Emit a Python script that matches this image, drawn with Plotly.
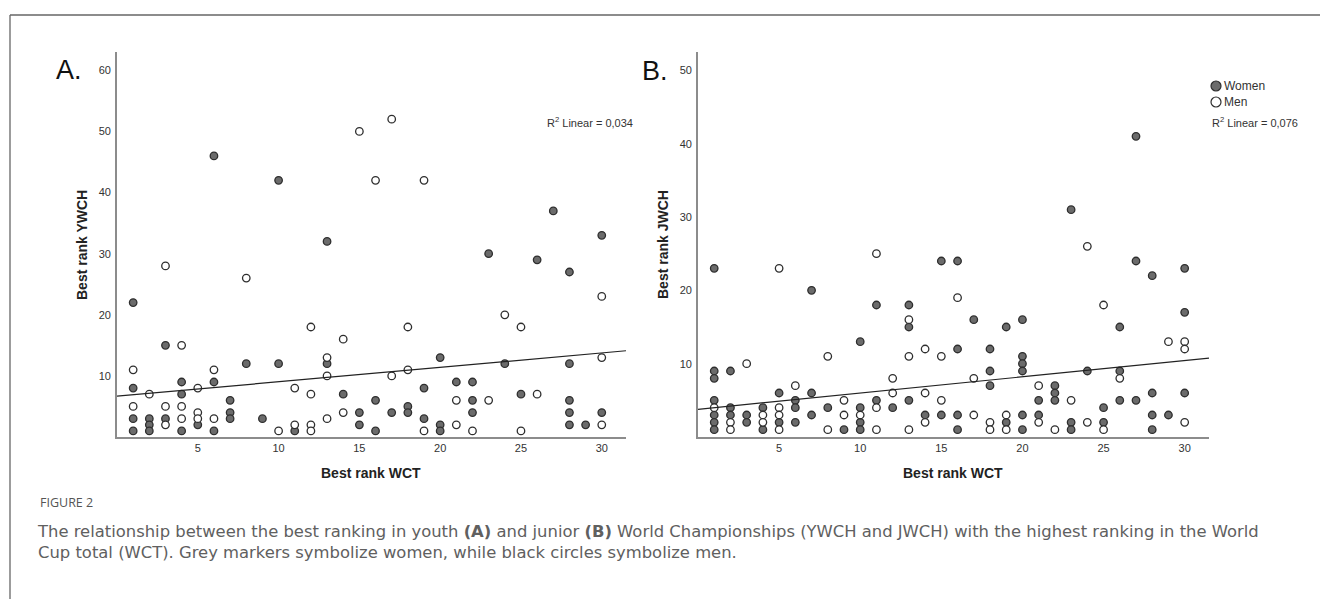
import plotly.graph_objects as go

# ---------------- data ----------------
# Panel A: best rank WCT (x) vs best rank YWCH (y)
A_WOMEN_X = [1, 1, 1, 1, 2, 2, 2, 3, 3, 4, 4, 4, 5, 6, 6, 6, 7, 7, 7, 8, 9, 10, 10, 11,
             13, 13, 14, 15, 15, 16, 16, 17, 18, 18, 19, 19, 20, 20, 20, 21, 22, 22, 22,
             23, 24, 25, 26, 27, 28, 28, 28, 28, 28, 29, 30, 30]
A_WOMEN_Y = [22, 8, 3, 1, 3, 2, 1, 15, 3, 9, 7, 1, 2, 46, 9, 1, 6, 4, 3, 12, 3, 42, 12, 1,
             32, 12, 7, 4, 2, 6, 1, 4, 5, 4, 8, 3, 13, 2, 1, 9, 9, 6, 4,
             30, 12, 7, 29, 37, 27, 12, 6, 4, 2, 2, 33, 4]
A_MEN_X = [1, 1, 2, 3, 3, 3, 4, 4, 4, 5, 5, 5, 6, 6, 8, 10, 11, 11, 12, 12, 12, 12,
           13, 13, 13, 14, 14, 15, 16, 17, 17, 18, 18, 19, 19, 21, 21, 22, 23, 24,
           25, 25, 26, 30, 30, 30]
A_MEN_Y = [11, 5, 7, 28, 5, 2, 15, 5, 3, 8, 4, 3, 11, 3, 26, 1, 8, 2, 18, 7, 2, 1,
           13, 10, 3, 16, 4, 50, 42, 52, 10, 18, 11, 42, 1, 6, 2, 1, 6, 20,
           18, 1, 7, 23, 13, 2]

# Panel B: best rank WCT (x) vs best rank JWCH (y)
B_WOMEN_X = [1, 1, 1, 1, 1, 1, 1, 2, 2, 2, 3, 3, 4, 4, 5, 5, 6, 6, 6, 7, 7, 7, 8, 9,
             10, 10, 10, 10, 11, 11, 12, 13, 13, 13, 14, 15, 15, 16, 16, 16, 16, 17,
             18, 18, 18, 19, 19, 20, 20, 20, 20, 20, 20, 21, 21, 22, 22, 22, 23, 23, 23,
             24, 25, 25, 26, 26, 26, 27, 27, 27, 28, 28, 28, 28, 29, 30, 30, 30]
B_WOMEN_Y = [23, 9, 8, 5, 3, 2, 1, 9, 4, 3, 3, 2, 4, 1, 6, 2, 5, 4, 2, 20, 6, 3, 4, 1,
             13, 4, 2, 1, 18, 5, 4, 18, 15, 5, 3, 24, 3, 24, 12, 3, 1, 16,
             12, 9, 7, 15, 2, 16, 11, 10, 9, 3, 1, 5, 3, 7, 6, 5, 31, 2, 1,
             9, 4, 2, 15, 9, 5, 41, 24, 5, 22, 6, 3, 1, 3, 23, 17, 6]
B_MEN_X = [1, 2, 2, 3, 4, 4, 5, 5, 5, 5, 6, 8, 8, 9, 9, 10, 11, 11, 11, 12, 12,
           13, 13, 13, 14, 14, 14, 15, 15, 16, 17, 17, 18, 18, 19, 19, 21, 21, 22,
           23, 24, 24, 25, 25, 26, 29, 30, 30, 30]
B_MEN_Y = [4, 2, 1, 10, 3, 2, 23, 4, 3, 1, 7, 11, 1, 5, 3, 3, 25, 4, 1, 8, 6,
           16, 11, 1, 12, 6, 2, 11, 5, 19, 8, 3, 2, 1, 3, 1, 7, 2, 1,
           5, 26, 2, 18, 1, 8, 13, 13, 12, 2]

# Linear fit lines (intercept, slope) and R² as shown in the figure
FIT_A = (6.68, 0.236)
FIT_B = (3.77, 0.222)
R2_A = "0,034"
R2_B = "0,076"

X_TICKS = [5, 10, 15, 20, 25, 30]
Y_TICKS_A = [10, 20, 30, 40, 50, 60]
Y_TICKS_B = [10, 20, 30, 40, 50]
X_RANGE = [0, 31.5]
Y_RANGE_A = [0, 63]
Y_RANGE_B = [0, 52.5]

CAPTION_TITLE = "FIGURE 2"
CAPTION_1 = ("The relationship between the best ranking in youth <b>(A)</b> and junior <b>(B)</b> "
             "World Championships (YWCH and JWCH) with the highest ranking in the World")
CAPTION_2 = "Cup total (WCT). Grey markers symbolize women, while black circles symbolize men."

# ---------------- styling ----------------
W, H = 1320, 599
FILL_W = "#6b6b6b"
EDGE = "#2e2e2e"
AXIS_COL = "#8c8c8c"
TXT = "#333333"
FONT = "Liberation Sans, Arial, sans-serif"

def px_x(p):
    return p / W

def px_y(p):
    return 1 - p / H

fig = go.Figure()

marker_w = dict(size=7.5, color=FILL_W, line=dict(color=EDGE, width=1.3))
marker_m = dict(size=7.5, color="white", line=dict(color=EDGE, width=1.3))

for xs, ys, xa, ya, mk, nm in [
    (A_WOMEN_X, A_WOMEN_Y, "x", "y", marker_w, "Women"),
    (A_MEN_X, A_MEN_Y, "x", "y", marker_m, "Men"),
    (B_WOMEN_X, B_WOMEN_Y, "x2", "y2", marker_w, "Women"),
    (B_MEN_X, B_MEN_Y, "x2", "y2", marker_m, "Men"),
]:
    fig.add_trace(go.Scatter(x=xs, y=ys, mode="markers", marker=mk, name=nm,
                             xaxis=xa, yaxis=ya, showlegend=False))

for fit, xa, ya in [(FIT_A, "x", "y"), (FIT_B, "x2", "y2")]:
    b0, b1 = fit
    xs = [X_RANGE[0], X_RANGE[1]]
    fig.add_trace(go.Scatter(x=xs, y=[b0 + b1 * v for v in xs], mode="lines",
                             line=dict(color="#222222", width=1.2),
                             xaxis=xa, yaxis=ya, showlegend=False, hoverinfo="skip"))

ydom = [px_y(437), px_y(52)]
common_axis = dict(showline=True, linecolor=AXIS_COL, linewidth=1.6, showgrid=False,
                   zeroline=False, ticks="", tickfont=dict(family=FONT, size=11, color=TXT))

fig.update_layout(
    width=W, height=H,
    margin=dict(l=0, r=0, t=0, b=0),
    paper_bgcolor="white", plot_bgcolor="white",
    showlegend=False,
    xaxis=dict(domain=[px_x(117), px_x(626)], range=X_RANGE, tickvals=X_TICKS,
               anchor="y", **common_axis),
    yaxis=dict(domain=ydom, range=Y_RANGE_A, tickvals=Y_TICKS_A, anchor="x",
               ticklabelstandoff=2, **common_axis),
    xaxis2=dict(domain=[px_x(698), px_x(1209)], range=X_RANGE, tickvals=X_TICKS,
                anchor="y2", **common_axis),
    yaxis2=dict(domain=ydom, range=Y_RANGE_B, tickvals=Y_TICKS_B, anchor="x2",
                ticklabelstandoff=2, **common_axis),
)

ann = []
def add_text(text, x, y, size, color=TXT, bold=False, xanchor="center", angle=0,
             family=FONT, align="center"):
    ann.append(dict(text=f"<b>{text}</b>" if bold else text, x=px_x(x), y=px_y(y),
                    xref="paper", yref="paper", showarrow=False, xanchor=xanchor,
                    yanchor="middle", textangle=angle, align=align,
                    font=dict(family=family, size=size, color=color)))

# panel letters
add_text("A.", 69, 70, 27, color="#111111")
add_text("B.", 655, 71, 27, color="#111111")
# axis titles
add_text("Best rank WCT", 371, 473, 14, bold=True, color="#222222")
add_text("Best rank WCT", 953, 473, 14, bold=True, color="#222222")
add_text("Best rank YWCH", 82, 245, 14, bold=True, color="#222222", angle=-90)
add_text("Best rank JWCH", 663, 245, 14, bold=True, color="#222222", angle=-90)
# R² labels
add_text(f"R<sup>2</sup> Linear = {R2_A}", 545, 122, 11, xanchor="left")
add_text(f"R<sup>2</sup> Linear = {R2_B}", 1210, 122, 11, xanchor="left")
# legend texts
add_text("Women", 1222, 86, 12, xanchor="left")
add_text("Men", 1222, 102, 12, xanchor="left")
# caption
add_text(CAPTION_TITLE, 38, 502, 12.5, color="#555555", xanchor="left",
         family="Open Sans, sans-serif")
add_text(CAPTION_1 + "<br>" + CAPTION_2, 35, 542, 16.4, color="#606060", xanchor="left",
         family="DejaVu Sans, sans-serif", align="left")
fig.update_layout(annotations=ann)

shapes = []
# legend symbols
for cy, fillc in [(86, FILL_W), (102, "white")]:
    shapes.append(dict(type="circle", xref="paper", yref="paper",
                       x0=px_x(1211), x1=px_x(1221), y0=px_y(cy + 5), y1=px_y(cy - 5),
                       fillcolor=fillc, line=dict(color=EDGE, width=1.2)))
# frame (top and left)
shapes.append(dict(type="line", xref="paper", yref="paper", x0=px_x(10), x1=1,
                   y0=px_y(15), y1=px_y(15), line=dict(color="#666666", width=1.3)))
shapes.append(dict(type="line", xref="paper", yref="paper", x0=px_x(10), x1=px_x(10),
                   y0=px_y(15), y1=0, line=dict(color="#666666", width=1.3)))
fig.update_layout(shapes=shapes)

fig.write_html("out.html")
